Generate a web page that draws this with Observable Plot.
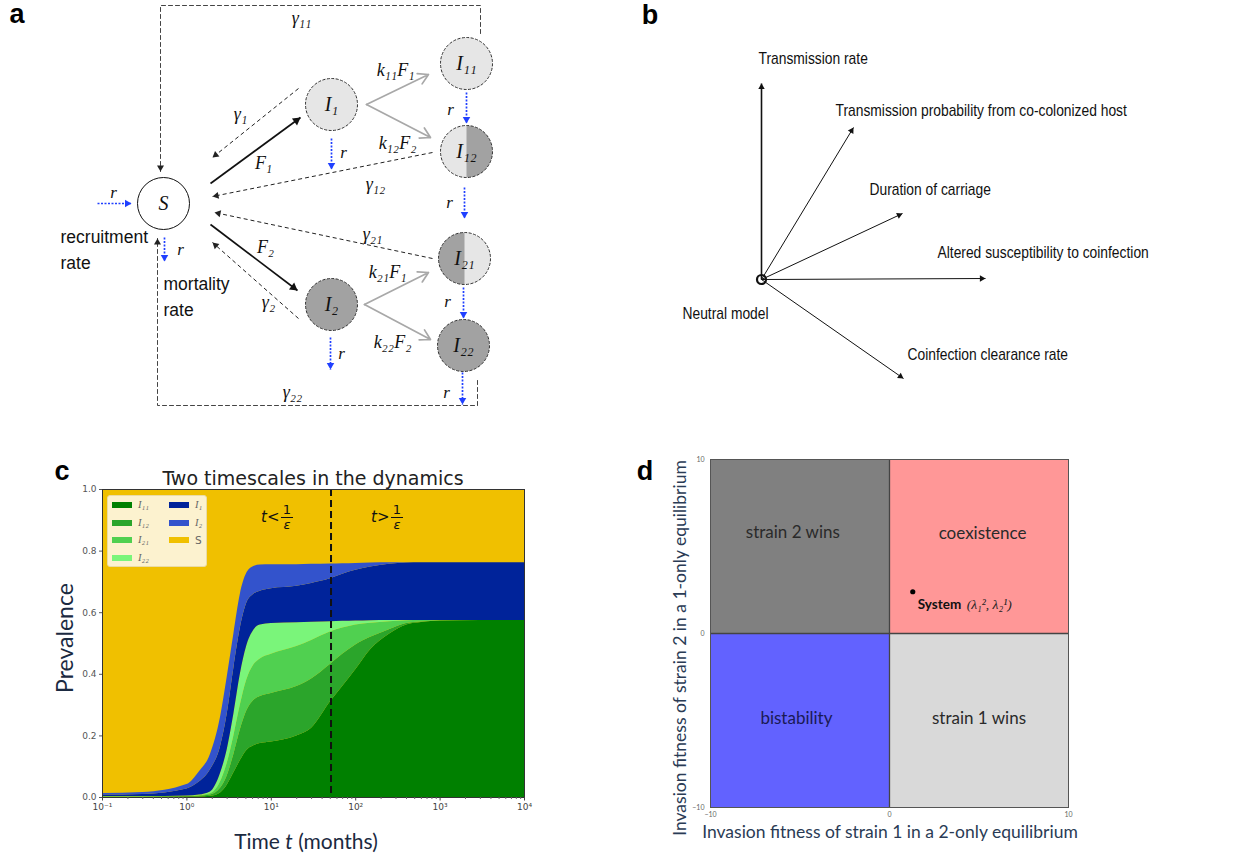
<!DOCTYPE html>
<html><head><meta charset="utf-8">
<script src="https://cdn.jsdelivr.net/npm/d3@7"></script>
<script src="https://cdn.jsdelivr.net/npm/@observablehq/plot@0.6"></script>
<style>
body{margin:0;background:#fff;}
#root{position:relative;width:1254px;height:856px;overflow:hidden;font-family:"Liberation Sans",Arial,sans-serif;}
.c{position:absolute;transform:translate(-50%,-50%);white-space:nowrap;line-height:1;}
.letter{font-family:"Liberation Sans",Arial,sans-serif;font-weight:bold;font-size:27px;color:#000;line-height:0.9;}
.ann{position:absolute;font-family:"DejaVu Sans",sans-serif;font-size:15px;color:#111;display:flex;align-items:center;line-height:1;}
.frac{display:inline-flex;flex-direction:column;align-items:center;font-size:13px;line-height:1.05;margin-left:2px;}
.frac .den{border-top:1.3px solid #111;padding:0 2px;font-style:italic;}
.leg{position:absolute;left:107px;top:495px;width:100px;height:72px;background:#fcf2cf;border:1px solid #eadca6;border-radius:3px;box-sizing:border-box;}
.sw{position:absolute;width:20px;height:6px;}
.ll{position:absolute;font-family:"Liberation Serif","DejaVu Serif",serif;font-style:italic;font-size:10.5px;color:#666;line-height:1;transform:translateY(-50%);}
</style></head><body><div id="root"></div>
<script>
// ---------------- Panel a : model diagram ----------------
const nodeNames = ["S","I₁","I₂","I₁₁","I₁₂","I₂₁","I₂₂"];
const nodeX = [163,331,331,466,466,464,463];
const nodeY = [203,104,304,63,151,258,345];
const nodeFill = ["#ffffff","#e6e6e6","#a2a2a2","#e6e6e6","#e6e6e6","#e6e6e6","#a2a2a2"];
const halfNodes = [{name:"I₁₂", side:0},{name:"I₂₁", side:180}];

const forceArrows = [
  {x1:210,y1:183,x2:300,y2:117,label:"F₁",lx:263,ly:163},
  {x1:210,y1:224,x2:297,y2:290,label:"F₂",lx:265,ly:247}
];
const gammaArrows = [
  {x1:298,y1:88,x2:212,y2:157,label:"γ₁",lx:240,ly:114},
  {x1:298,y1:318,x2:212,y2:242,label:"γ₂",lx:268,ly:302},
  {x1:432,y1:152,x2:212,y2:196,label:"γ₁₂",lx:375,ly:184},
  {x1:432,y1:258,x2:214,y2:212,label:"γ₂₁",lx:372,ly:234}
];
const gammaLoops = [
  {label:"γ₁₁", lx:301, ly:18, xs:[480,480,160,160], ys:[33,5,5,171]},
  {label:"γ₂₂", lx:292, ly:392, xs:[477,477,157,157], ys:[380,405,405,238]}
];
const kArrows = [
  {x1:366,y1:104,x2:428,y2:74,label:"k₁₁F₁",lx:395,ly:70},
  {x1:366,y1:104,x2:430,y2:137,label:"k₁₂F₂",lx:397,ly:143},
  {x1:364,y1:304,x2:428,y2:272,label:"k₂₁F₁",lx:387,ly:272},
  {x1:364,y1:304,x2:430,y2:339,label:"k₂₂F₂",lx:392,ly:342}
];
const rArrows = [
  {x1:97,y1:203,x2:131,y2:203,lx:113,ly:192},
  {x1:164,y1:237,x2:164,y2:261,lx:180,ly:249},
  {x1:331,y1:138,x2:331,y2:169,lx:343,ly:152},
  {x1:466,y1:92,x2:466,y2:123,lx:450,ly:109},
  {x1:464,y1:187,x2:464,y2:218,lx:449,ly:202},
  {x1:463,y1:287,x2:463,y2:318,lx:447,ly:301},
  {x1:330,y1:337,x2:330,y2:369,lx:341,ly:353},
  {x1:462,y1:372,x2:462,y2:404,lx:446,ly:392}
];
const plainTexts = [
  {t:"recruitment",x:60,y:237},{t:"rate",x:60,y:263},
  {t:"mortality",x:163,y:284},{t:"rate",x:163,y:310}
];

// ---------------- Panel b : trait directions ----------------
const traits = ["Transmission rate","Transmission probability from co-colonized host","Duration of carriage","Altered susceptibility to coinfection","Coinfection clearance rate"];
const traitDX = [0, 92, 141, 224, 142];
const traitDY = [196, 152, 66, 1, -99];
const traitLabelDX = [-3, 74, 108, 176, 146];
const traitLabelDY = [221, 169, 90, 27, -75];
const neutralLabel = "Neutral model";

// ---------------- Panel c : dynamics ----------------
const times = [0.1,0.3,1,1.4,1.9,2.5,3,3.6,4.3,5.1,6.2,7.4,10,20,30,50,70,100,150,250,400,600,1000,3000,10000];
const I11 = [.001,.001,.002,.002,.004,.015,.04,.08,.12,.152,.168,.175,.18,.20,.225,.31,.36,.415,.48,.53,.56,.568,.573,.575,.575];
const I12 = [.001,.001,.001,.002,.004,.015,.03,.06,.10,.128,.147,.153,.158,.16,.16,.122,.105,.08,.04,.015,.005,.002,.001,0,0];
const I21 = [.0005,.0005,.001,.002,.004,.02,.04,.06,.08,.10,.115,.122,.127,.13,.125,.105,.085,.065,.046,.026,.009,.005,.001,0,0];
const I22 = [.0005,.0005,.001,.002,.006,.028,.044,.07,.10,.11,.113,.11,.10,.077,.059,.034,.022,.013,.008,.004,.001,0,0,0,0];
const I1  = [.005,.007,.023,.042,.072,.087,.116,.15,.15,.14,.117,.11,.113,.119,.126,.139,.153,.165,.174,.182,.186,.187,.187,.187,.187];
const I2  = [.005,.006,.014,.033,.05,.095,.12,.11,.11,.097,.09,.085,.078,.07,.062,.048,.034,.022,.013,.005,.001,0,0,0,0];
const seriesNames = ["I₁₁","I₁₂","I₂₁","I₂₂","I₁","I₂","S"];
const seriesColors = ["#008000","#2ba52b","#50d050","#7af57a","#00239a","#3353cc","#f0c000"];
const cutoffTime = 51;
const xTicks = [0.1,1,10,100,1000,10000];
const yTicks = [0,0.2,0.4,0.6,0.8,1.0];

// ---------------- Panel d : invasion fitness plane ----------------
const quadLabels = ["strain 2 wins","coexistence","bistability","strain 1 wins"];
const quadX1 = [-10, 0, -10, 0];
const quadX2 = [0, 10, 0, 10];
const quadY1 = [0, 0, -10, -10];
const quadY2 = [10, 10, 0, 0];
const quadColors = ["#808080","#ff9797","#6262ff","#d9d9d9"];
const quadTextColors = ["#2a2a2a","#2a2a2a","#1a1a55","#2a2a2a"];
const quadLabelX = [-5.4, 5.2, -5.2, 5.0];
const quadLabelY = [5.8, 5.75, -4.9, -4.9];
const systemPoint = {x:1.3, y:2.4, name:"System", coords:"(λ₁², λ₂¹)"};
const dTicks = [-10, 0, 10];

// ================= drawing =================
const root = document.getElementById("root");
function place(el, left, top){ el.style.position="absolute"; el.style.left=left+"px"; el.style.top=top+"px"; root.appendChild(el); return el; }
function html(s, left, top, cls, style){ const d=document.createElement("div"); d.className=cls||"c"; d.innerHTML=s; if(style) d.style.cssText+=style; d.style.left=left+"px"; d.style.top=top+"px"; root.appendChild(d); return d; }
function heads(segs, r){
  return segs.map(s=>{const dx=s.x2-s.x1, dy=s.y2-s.y1, L=Math.hypot(dx,dy), k=1.555*r/L;
    return {x:s.x2-dx*k, y:s.y2-dy*k, rotate:Math.atan2(dx,-dy)*180/Math.PI};});
}
const serif = "Liberation Serif, DejaVu Serif, serif";
const sans = "Liberation Sans, Arial, sans-serif";

// ---- panel a
const nodes = nodeNames.map((n,i)=>({name:n,x:nodeX[i],y:nodeY[i],fill:nodeFill[i]}));
const nodeById = Object.fromEntries(nodes.map(n=>[n.name,n]));
const halfs = halfNodes.map(h=>({...nodeById[h.name], rotate:h.side}));
const rightHalf = {draw(ctx,size){const r=Math.sqrt(size/Math.PI); ctx.moveTo(0,-r); ctx.arc(0,0,r,-Math.PI/2,Math.PI/2); ctx.closePath();}};
const loopPts = gammaLoops.flatMap((l,j)=>l.xs.map((x,i)=>({id:j,x,y:l.ys[i]})));
const loopLast = gammaLoops.map(l=>({x1:l.xs[2],y1:l.ys[2],x2:l.xs[3],y2:l.ys[3]}));
const mathLabels = [...forceArrows,...gammaArrows,...gammaLoops,...kArrows];

const pa = Plot.plot({
  width:520, height:420, margin:0,
  x:{domain:[0,520], range:[0,520], axis:null},
  y:{domain:[0,420], range:[0,420], axis:null},
  style:{background:"transparent", overflow:"visible"},
  marks:[
    Plot.line(loopPts,{x:"x",y:"y",z:"id",stroke:"#444",strokeWidth:1,strokeDasharray:"4,3"}),
    Plot.link(gammaArrows,{x1:"x1",y1:"y1",x2:"x2",y2:"y2",stroke:"#222",strokeWidth:1,strokeDasharray:"4,3"}),
    Plot.link(forceArrows,{x1:"x1",y1:"y1",x2:"x2",y2:"y2",stroke:"#111",strokeWidth:1.7}),
    Plot.arrow(kArrows,{x1:"x1",y1:"y1",x2:"x2",y2:"y2",stroke:"#a8a8a8",strokeWidth:1.7,headLength:10}),
    Plot.link(rArrows,{x1:"x1",y1:"y1",x2:"x2",y2:"y2",stroke:"#2040ff",strokeWidth:1.7,strokeDasharray:"2,1.5"}),
    Plot.dot(heads([...gammaArrows,...loopLast],2.6),{x:"x",y:"y",r:2.6,symbol:"triangle",rotate:"rotate",fill:"#222"}),
    Plot.dot(heads(forceArrows,3.2),{x:"x",y:"y",r:3.2,symbol:"triangle",rotate:"rotate",fill:"#111"}),
    Plot.dot(heads(rArrows,2.8),{x:"x",y:"y",r:2.8,symbol:"triangle",rotate:"rotate",fill:"#2040ff"}),
    Plot.dot(nodes,{x:"x",y:"y",r:26,fill:"fill",stroke:"none"}),
    Plot.dot(halfs,{x:"x",y:"y",r:26,symbol:rightHalf,rotate:"rotate",fill:"#a2a2a2"}),
    Plot.dot(nodes.slice(0,1),{x:"x",y:"y",r:26,fill:"none",stroke:"#111",strokeWidth:1}),
    Plot.dot(nodes.slice(1),{x:"x",y:"y",r:26,fill:"none",stroke:"#333",strokeWidth:1,strokeDasharray:"3,1.5"}),
    Plot.text(nodes,{x:"x",y:"y",text:"name",fontFamily:serif,fontStyle:"italic",fontSize:20,fill:"#111"}),
    Plot.text(mathLabels,{x:"lx",y:"ly",text:"label",fontFamily:serif,fontStyle:"italic",fontSize:18,fill:"#111"}),
    Plot.text(rArrows,{x:"lx",y:"ly",text:()=>"r",fontFamily:serif,fontStyle:"italic",fontSize:17,fill:"#111"}),
    Plot.text(plainTexts,{x:"x",y:"y",text:"t",textAnchor:"start",fontFamily:sans,fontSize:17.5,fill:"#111"})
  ]
});
place(pa,0,0);

// ---- panel b
const O = {x:121, y:279};
const vecs = traits.map((name,i)=>({name,x1:O.x,y1:O.y,x2:O.x+traitDX[i],y2:O.y-traitDY[i],lx:O.x+traitLabelDX[i],ly:O.y-traitLabelDY[i]}));
const pb = Plot.plot({
  width:614, height:420, margin:0,
  x:{domain:[0,614], range:[0,614], axis:null},
  y:{domain:[0,420], range:[0,420], axis:null},
  style:{background:"transparent", overflow:"visible"},
  marks:[
    Plot.link(vecs,{x1:"x1",y1:"y1",x2:"x2",y2:"y2",stroke:"#111",strokeWidth:(d,i)=>i===0?1.6:1}),
    Plot.dot(heads(vecs,2.4),{x:"x",y:"y",r:2.4,symbol:"triangle",rotate:"rotate",fill:"#111"}),
    Plot.dot([O],{x:"x",y:"y",r:4.5,fill:"none",stroke:"#111",strokeWidth:2.2}),
    Plot.text(vecs,{x:"lx",y:"ly",text:"name",textAnchor:"start",fontFamily:sans,fontSize:16,fill:"#111"}),
    Plot.text([{t:neutralLabel,x:O.x-79,y:O.y+34}],{x:"x",y:"y",text:"t",textAnchor:"start",fontFamily:sans,fontSize:16,fill:"#111"})
  ]
});
// condensed look of the original labels
d3.select(pb).selectAll("text").each(function(){
  const s = 0.865;
  const tr = this.getAttribute("transform");
  if (tr) this.setAttribute("transform", tr + ` scale(${s},1)`);
  else { const x=+this.getAttribute("x")||0; this.setAttribute("x", x/s); this.setAttribute("transform", `scale(${s},1)`); }
});
place(pb,640,0);

// ---- panel c
const seriesVals = [I11,I12,I21,I22,I1,I2];
const longData = seriesVals.flatMap((vals,k)=>vals.map((v,i)=>({t:times[i],series:seriesNames[k],v})));
const supMap = {"-":"⁻","0":"⁰","1":"¹","2":"²","3":"³","4":"⁴","5":"⁵","6":"⁶","7":"⁷","8":"⁸","9":"⁹"};
const supFmt = d => "10" + String(Math.round(Math.log10(d))).split("").map(c=>supMap[c]).join("");
const minorTicks = [];
for (let e=-1;e<4;e++) for (let m=2;m<10;m++) minorTicks.push(m*Math.pow(10,e));
const pc = Plot.plot({
  width:500, height:400, marginLeft:62, marginRight:16, marginTop:29, marginBottom:63,
  x:{type:"log", domain:[0.1,10000]},
  y:{domain:[0,1]},
  color:{domain:seriesNames.slice(0,6), range:seriesColors.slice(0,6)},
  style:{fontFamily:"DejaVu Sans, sans-serif", fontSize:"9px", background:"transparent", overflow:"visible"},
  marks:[
    Plot.frame({fill:seriesColors[6]}),
    Plot.areaY(longData,{x:"t",y:"v",fill:"series",curve:"monotone-x"}),
    Plot.ruleX([cutoffTime],{stroke:"#111",strokeWidth:2,strokeDasharray:"7,4"}),
    Plot.frame({stroke:"#333"}),
    Plot.axisX({ticks:xTicks, tickFormat:supFmt, tickSize:3.5, tickPadding:3, label:null, color:"#444"}),
    Plot.axisX({ticks:minorTicks, tickFormat:()=>"", tickSize:2, label:null, color:"#666"}),
    Plot.axisY({ticks:yTicks, tickFormat:d3.format(".1f"), tickSize:3, tickPadding:3, label:null, color:"#555"})
  ]
});
place(pc,40,460);
html("Two timescales in the dynamics",313,478,"c","font-family:'DejaVu Sans',sans-serif;font-size:19px;color:#222;");
html("Time <i>t</i> (months)",306,840,"c","font-family:Lato,sans-serif;font-size:21px;color:#1b2a41;");
html("Prevalence",64,638,"c","font-family:Lato,sans-serif;font-size:23px;color:#1b2a41;transform:translate(-50%,-50%) rotate(-90deg);");
html("<i>t</i>&lt;<span class='frac'><span>1</span><span class='den'>ε</span></span>",261,503,"ann");
html("<i>t</i>&gt;<span class='frac'><span>1</span><span class='den'>ε</span></span>",371,503,"ann");
// legend
const leg = document.createElement("div"); leg.className="leg"; root.appendChild(leg);
const legRows = [[0,0],[0,1],[0,2],[0,3],[1,0],[1,1],[1,2]];
seriesNames.forEach((n,i)=>{
  const [col,row]=legRows[i];
  const sw=document.createElement("div"); sw.className="sw"; sw.style.background=seriesColors[i];
  sw.style.left=(4+col*57)+"px"; sw.style.top=(6+row*17.7)+"px"; leg.appendChild(sw);
  const lb=document.createElement("div"); lb.className="ll"; lb.textContent=n;
  if(n==="S"){lb.style.fontStyle="normal";lb.style.fontFamily="DejaVu Sans,sans-serif";}
  lb.style.left=(30+col*57)+"px"; lb.style.top=(9+row*17.7)+"px"; leg.appendChild(lb);
});

// ---- panel d
const quads = quadLabels.map((l,i)=>({label:l,x1:quadX1[i],x2:quadX2[i],y1:quadY1[i],y2:quadY2[i],fill:quadColors[i],tc:quadTextColors[i],cx:quadLabelX[i],cy:quadLabelY[i]}));
const pd = Plot.plot({
  width:470, height:420, marginLeft:80, marginRight:32, marginTop:19, marginBottom:53,
  x:{domain:[-10,10]}, y:{domain:[-10,10]},
  style:{fontFamily:"Lato, sans-serif", background:"transparent", overflow:"visible"},
  marks:[
    Plot.rect(quads,{x1:"x1",x2:"x2",y1:"y1",y2:"y2",fill:"fill"}),
    Plot.ruleX([0],{stroke:"#444",strokeWidth:1.3}),
    Plot.ruleY([0],{stroke:"#444",strokeWidth:1.3}),
    Plot.frame({stroke:"#555"}),
    Plot.text(quads,{x:"cx",y:"cy",text:"label",fontSize:17,fill:"tc",fontFamily:"Lato, sans-serif"}),
    Plot.dot([systemPoint],{x:"x",y:"y",r:2.6,fill:"#000"}),
    Plot.text([systemPoint],{x:"x",y:"y",text:"name",dx:5,dy:13,textAnchor:"start",fontWeight:"bold",fontSize:13.5,fill:"#111",fontFamily:"Lato, sans-serif"}),
    Plot.text([systemPoint],{x:"x",y:"y",text:"coords",dx:54,dy:13,textAnchor:"start",fontStyle:"italic",fontSize:13.5,fill:"#222",fontFamily:serif}),
    Plot.axisX({ticks:dTicks, tickSize:0, tickPadding:5, fontSize:7, label:null, color:"#666"}),
    Plot.axisY({ticks:dTicks, tickSize:0, tickPadding:6, fontSize:7, label:null, color:"#666"})
  ]
});
place(pd,630,440);
html("Invasion fitness of strain 1 in a 2-only equilibrium",890,832,"c","font-family:Lato,sans-serif;font-size:17.5px;color:#2a3b55;");
html("Invasion fitness of strain 2 in a 1-only equilibrium",680,648,"c","font-family:Lato,sans-serif;font-size:17.5px;color:#2a3b55;transform:translate(-50%,-50%) rotate(-90deg);");

// panel letters
html("a",17,14,"c letter");
html("b",650,15,"c letter");
html("c",62,471,"c letter");
html("d",645,471,"c letter");
</script></body></html>
